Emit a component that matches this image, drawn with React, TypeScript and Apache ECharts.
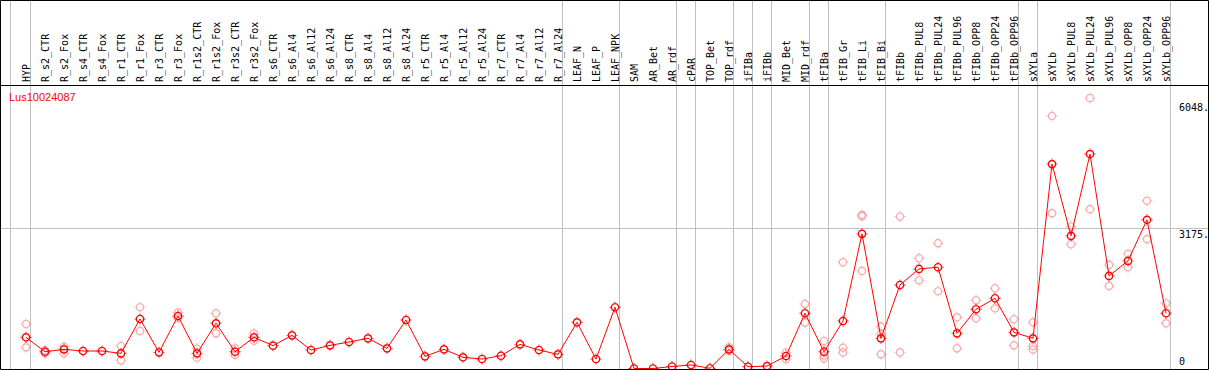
import { useEffect, useRef } from "react";
import * as echarts from "echarts";

const chartTitle = "Lus10024087";

const categories = [
  "HYP", "R_s2_CTR", "R_s2_Fox", "R_s4_CTR", "R_s4_Fox", "R_r1_CTR", "R_r1_Fox", "R_r3_CTR", "R_r3_Fox",
  "R_r1s2_CTR", "R_r1s2_Fox", "R_r3s2_CTR", "R_r3s2_Fox", "R_s6_CTR", "R_s6_Al4", "R_s6_Al12", "R_s6_Al24",
  "R_s8_CTR", "R_s8_Al4", "R_s8_Al12", "R_s8_Al24", "R_r5_CTR", "R_r5_Al4", "R_r5_Al12", "R_r5_Al24",
  "R_r7_CTR", "R_r7_Al4", "R_r7_Al12", "R_r7_Al24", "LEAF_N", "LEAF_P", "LEAF_NPK", "SAM", "AR_Bet", "AR_rdf",
  "cPAR", "TOP_Bet", "TOP_rdf", "iFIBa", "iFIBb", "MID_Bet", "MID_rdf", "tFIBa", "tFIB_Gr", "tFIB_Li", "tFIB_Bi",
  "tFIBb", "tFIBb_PUL8", "tFIBb_PUL24", "tFIBb_PUL96", "tFIBb_OPP8", "tFIBb_OPP24", "tFIBb_OPP96",
  "sXYLa", "sXYLb", "sXYLb_PUL8", "sXYLb_PUL24", "sXYLb_PUL96", "sXYLb_OPP8", "sXYLb_OPP24", "sXYLb_OPP96",
];

const means = [
  706, 380, 434, 396, 396, 343, 1121, 366, 1189, 343, 1023, 380, 706, 517, 751, 418, 524, 600, 683, 456, 1099,
  275, 434, 253, 214, 290, 547, 418, 320, 1046, 214, 1387, 0, 0, 45, 80, 5, 434, 40, 55, 282, 1250, 380, 1076,
  3049, 683, 1892, 2255, 2293, 796, 1341, 1590, 819, 683, 4629, 3004, 4856, 2097, 2437, 3367, 1250,
];

const replicates: number[][] = [
  [1008, 479], [410, 345], [493, 343], [], [], [509, 185], [1387, 849], [], [1265, 1150], [448, 244],
  [1250, 796], [456, 305], [796, 630], [], [], [], [], [], [], [], [],
  [], [], [], [], [], [], [], [], [], [], [], [], [], [], [], [], [480, 400], [], [], [358, 210],
  [1462, 1038], [622, 229, 289], [2407, 471, 365], [3480, 3450, 2210], [947, 320, 782], [3442, 365],
  [2497, 1998], [2838, 1749], [1159, 456], [1545, 1137], [1817, 1363], [1114, 524], [1046, 510, 430],
  [5718, 3518], [3215, 2815], [6126, 3609], [2346, 1870], [2595, 2293], [3798, 2929], [1477, 1023],
];

// index of the last category of each group (-1 = left edge)
const groupEnds = [-1, 0, 28, 31, 34, 35, 37, 38, 39, 41, 42, 45, 52, 53, 60];

const yTickValues = [0, 3175, 6048];
const yTickLabels = ["0", "3175.", "6048."];
const yGridValues = [3175];
const yMax = 6420;

const markerPath =
  "path://M1.3 6A4.7 4.7 0 1 0 10.7 6A4.7 4.7 0 1 0 1.3 6Z" +
  "M2.8 6A3.2 3.2 0 1 1 9.2 6A3.2 3.2 0 1 1 2.8 6Z" +
  "M5.5 0H6.5V1.5H5.5Z M5.5 10.5H6.5V12H5.5Z M0 5.5H1.5V6.5H0Z M10.5 5.5H12V6.5H10.5Z";

export default function App() {
  const ref = useRef<HTMLDivElement>(null);

  useEffect(() => {
    if (!ref.current) return;
    const chart = echarts.init(ref.current, null, { renderer: "svg" });

    const repData: number[][] = [];
    replicates.forEach((reps, i) => reps.forEach((v) => repData.push([i, v])));

    chart.setOption({
      animation: false,
      backgroundColor: "#ffffff",
      title: {
        text: chartTitle,
        left: 9,
        top: 91,
        padding: 0,
        textStyle: { color: "#ff0000", fontFamily: "Liberation Sans", fontSize: 11, fontWeight: "normal" },
      },
      grid: { left: 26, right: 43, top: 85, bottom: 1.5, containLabel: false },
      xAxis: {
        type: "category",
        data: categories,
        position: "top",
        boundaryGap: false,
        axisLine: { show: false },
        axisTick: { show: false },
        splitLine: { show: false },
        axisLabel: {
          interval: 0,
          rotate: 90,
          margin: 3,
          color: "#000",
          fontFamily: "DejaVu Sans Mono",
          fontSize: 10,
        },
      },
      yAxis: {
        type: "value",
        min: 0,
        max: yMax,
        show: false,
      },
      graphic: [
        {
          type: "rect",
          shape: { x: 0.5, y: 0.5, width: 1208, height: 369 },
          style: { fill: "none", stroke: "#000", lineWidth: 1 },
          silent: true,
          z: 100,
        },
        {
          type: "line",
          shape: { x1: 0, y1: 85.5, x2: 1209, y2: 85.5 },
          style: { stroke: "#000", lineWidth: 1 },
          silent: true,
          z: 100,
        },
      ],
      series: [
        {
          type: "custom",
          name: "separators",
          clip: false,
          silent: true,
          z: 0,
          data: groupEnds.map((g) => [0, 0, g]),
          renderItem: (_params: any, api: any) => {
            const idx = api.value(2);
            const x0 = api.coord([0, 0])[0];
            const x1 = api.coord([1, 0])[0];
            const x = Math.round(x0 + idx * (x1 - x0) + (idx < 0 ? 3 : 4)) + 0.5;
            return {
              type: "line",
              shape: { x1: x, y1: 0, x2: x, y2: 370 },
              style: { stroke: "#c0c0c0", lineWidth: 1 },
            };
          },
        },
        {
          type: "custom",
          name: "ygrid",
          clip: false,
          silent: true,
          z: 0,
          data: yGridValues.map((v) => [0, v]),
          renderItem: (_params: any, api: any) => {
            const y = Math.round(api.coord([0, api.value(1)])[1]) + 0.5;
            return {
              type: "line",
              shape: { x1: 1, y1: y, x2: 1208, y2: y },
              style: { stroke: "#c0c0c0", lineWidth: 1 },
            };
          },
        },
        {
          type: "custom",
          name: "yticks",
          clip: false,
          silent: true,
          z: 5,
          data: yTickValues.map((v, i) => [0, v, i]),
          renderItem: (_params: any, api: any) => {
            const v = api.value(1);
            const i = api.value(2);
            const y = api.coord([0, v])[1];
            const isZero = v === 0;
            return {
              type: "text",
              x: 1179,
              y: isZero ? y - 2 : y + 1,
              style: {
                text: yTickLabels[i],
                fill: "#000",
                fontFamily: "DejaVu Sans Mono",
                fontSize: 10,
                align: "left",
                verticalAlign: isZero ? "bottom" : "top",
              },
            };
          },
        },
        {
          type: "scatter",
          name: "replicates",
          data: repData,
          symbol: markerPath,
          symbolSize: 11,
          itemStyle: { color: "#f29a9a" },
          z: 2,
        },
        {
          type: "line",
          name: "mean",
          data: means,
          symbol: markerPath,
          symbolSize: 11,
          showSymbol: true,
          showAllSymbol: true,
          itemStyle: { color: "#ff0000" },
          lineStyle: { color: "#ff0000", width: 1 },
          z: 3,
        },
      ],
    });

    return () => chart.dispose();
  }, []);

  return (
    <div
      ref={ref}
      style={{ position: "absolute", left: 0, top: 0, width: 1209, height: 370 }}
    />
  );
}
